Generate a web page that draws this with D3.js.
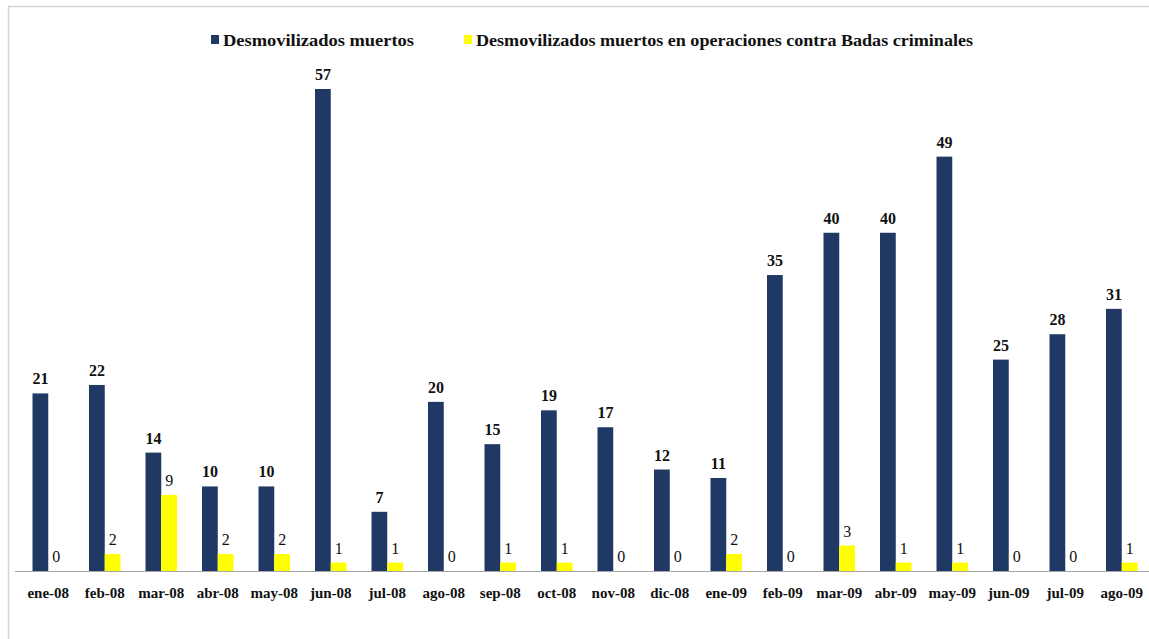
<!DOCTYPE html>
<html>
<head>
<meta charset="utf-8">
<script src="https://cdn.jsdelivr.net/npm/d3@7"></script>
<style>
  html, body { margin: 0; padding: 0; background: #fff; }
  svg { display: block; }
  text { font-family: "Liberation Serif", "DejaVu Serif", serif; }
</style>
</head>
<body>
<svg id="chart" width="1149" height="639"></svg>
<script>
// Monthly counts, January 2008 – August 2009
const months = ["ene-08","feb-08","mar-08","abr-08","may-08","jun-08","jul-08","ago-08","sep-08","oct-08","nov-08","dic-08","ene-09","feb-09","mar-09","abr-09","may-09","jun-09","jul-09","ago-09"];
const muertos = [21,22,14,10,10,57,7,20,15,19,17,12,11,35,40,40,49,25,28,31];
const muertosBandas = [0,2,9,2,2,1,1,0,1,1,0,0,2,0,3,1,1,0,0,1];
const seriesNames = ["Desmovilizados muertos", "Desmovilizados muertos en operaciones contra Badas criminales"];
const seriesColors = ["#1f3864", "#ffff00"];
const yMax = 60;

const svg = d3.select("#chart");
const W = 1149, H = 639;

// chart frame
svg.append("rect")
  .attr("x", 8.5).attr("y", 6.5)
  .attr("width", W + 20).attr("height", H + 20)
  .attr("fill", "#fff").attr("stroke", "#d4d4d4").attr("stroke-width", 1.5);

const baseY = 571;
const x = d3.scaleBand().domain(months).range([20, 1150]).paddingInner(0).paddingOuter(0);
const groupW = 31.5;
const x1 = d3.scaleBand().domain([0, 1]).range([0, groupW]);
const y = d3.scaleLinear().domain([0, yMax]).range([baseY, baseY - 60 * 8.456]);

const rows = months.map((m, i) => ({ m, vals: [muertos[i], muertosBandas[i]] }));

const g = svg.append("g");
const groups = g.selectAll("g.month").data(rows).join("g")
  .attr("class", "month")
  .attr("transform", d => `translate(${x(d.m) + (x.bandwidth() - groupW) / 2},0)`);

groups.selectAll("rect").data(d => d.vals.map((v, s) => ({ v, s }))).join("rect")
  .attr("x", d => x1(d.s))
  .attr("width", x1.bandwidth())
  .attr("y", d => y(d.v))
  .attr("height", d => baseY - y(d.v))
  .attr("fill", d => seriesColors[d.s]);

groups.selectAll("text.val").data(d => d.vals.map((v, s) => ({ v, s }))).join("text")
  .attr("class", "val")
  .attr("x", d => x1(d.s) + x1.bandwidth() / 2)
  .attr("y", d => y(d.v) - 9)
  .attr("text-anchor", "middle")
  .attr("font-size", 16)
  .attr("font-weight", d => d.s === 0 ? "bold" : "normal")
  .attr("fill", "#111")
  .text(d => d.v);

// category axis
const axis = d3.axisBottom(x).tickSize(0).tickPadding(0);
const ax = svg.append("g").attr("transform", `translate(0,${baseY})`).call(axis);
ax.select(".domain").remove();
ax.selectAll("text")
  .attr("y", 27)
  .attr("dy", 0)
  .attr("font-size", 15)
  .attr("font-weight", "bold")
  .attr("fill", "#111")
  .style("font-family", '"Liberation Serif", "DejaVu Serif", serif');
svg.append("line")
  .attr("x1", 15).attr("x2", W)
  .attr("y1", baseY + 0.5).attr("y2", baseY + 0.5)
  .attr("stroke", "#a6a6a6").attr("stroke-width", 1.2);

// legend
const legend = svg.append("g");
const legendItems = [
  { name: seriesNames[0], color: seriesColors[0], sx: 211, tx: 223, len: 191 },
  { name: seriesNames[1], color: seriesColors[1], sx: 464, tx: 476, len: 497 }
];
legendItems.forEach(it => {
  legend.append("rect").attr("x", it.sx).attr("y", 35).attr("width", 8).attr("height", 9).attr("fill", it.color);
  legend.append("text").attr("x", it.tx).attr("y", 46)
    .attr("font-size", 16).attr("font-weight", "bold").attr("fill", "#111")
    .attr("textLength", it.len).attr("lengthAdjust", "spacingAndGlyphs")
    .text(it.name);
});
</script>
</body>
</html>
